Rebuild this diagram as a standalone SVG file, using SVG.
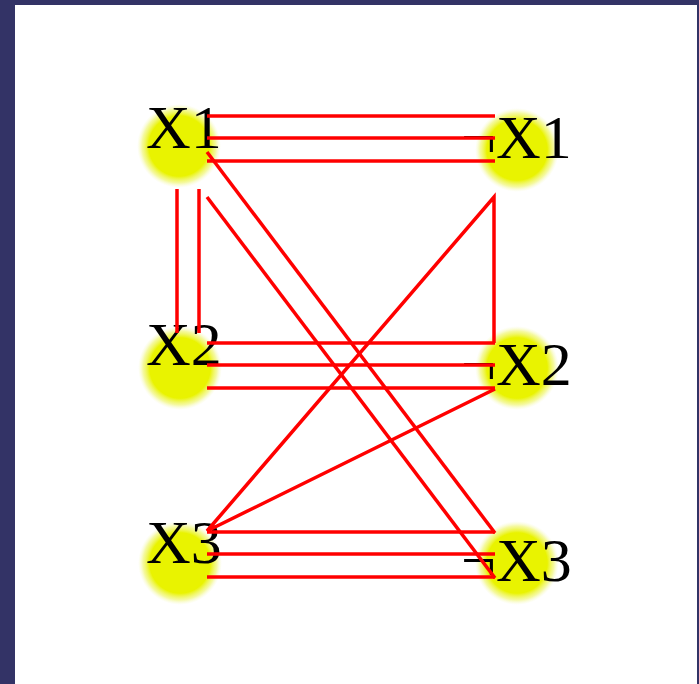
<svg xmlns="http://www.w3.org/2000/svg" width="699" height="684" viewBox="0 0 699 684">
<defs>
<radialGradient id="glow">
<stop offset="0" stop-color="#e9f300"/>
<stop offset="0.72" stop-color="#e9f300"/>
<stop offset="0.88" stop-color="#eef560" stop-opacity="0.6"/>
<stop offset="1" stop-color="#f4f8c0" stop-opacity="0"/>
</radialGradient>
<style>
.dot{fill:url(#glow)}
.lbl{font-family:"Liberation Serif","Times New Roman",serif;font-size:62px;fill:#000}
.c{stroke:#ff0000;stroke-width:3.5;fill:none;stroke-linecap:butt;stroke-linejoin:miter}
</style>
</defs>
<rect x="0" y="0" width="699" height="684" fill="#333366"/>
<rect x="15" y="5" width="682" height="679" fill="#ffffff"/>
<g id="X1">
<circle class="dot" cx="179" cy="146" r="42"/>
<text class="lbl" x="146" y="148">X1</text>
</g>
<g id="nX1">
<circle class="dot" cx="517" cy="150" r="42"/>
<text class="lbl" x="461" y="158">¬X1</text>
</g>
<g id="X2">
<circle class="dot" cx="180" cy="368" r="42"/>
<text class="lbl" x="146" y="365">X2</text>
</g>
<g id="nX2">
<circle class="dot" cx="517" cy="368" r="42"/>
<text class="lbl" x="461" y="385">¬X2</text>
</g>
<g id="X3">
<circle class="dot" cx="180" cy="563" r="42"/>
<text class="lbl" x="146" y="563">X3</text>
</g>
<g id="nX3">
<circle class="dot" cx="517" cy="563" r="42"/>
<text class="lbl" x="461" y="581">¬X3</text>
</g>
<g id="connectors" class="c">
<line x1="207" y1="116" x2="495" y2="116"/>
<line x1="207" y1="138" x2="495" y2="138"/>
<line x1="207" y1="161" x2="495" y2="161"/>
<line x1="177" y1="189" x2="177" y2="333"/>
<line x1="199" y1="189" x2="199" y2="333"/>
<line x1="207" y1="152" x2="495" y2="533"/>
<line x1="207" y1="197" x2="495" y2="578"/>
<polyline points="494,343 494,197 207,531 495,389"/>
<line x1="207" y1="343" x2="495" y2="343"/>
<line x1="207" y1="365" x2="495" y2="365"/>
<line x1="207" y1="388" x2="495" y2="388"/>
<line x1="207" y1="532" x2="495" y2="532"/>
<line x1="207" y1="554" x2="495" y2="554"/>
<line x1="207" y1="577" x2="495" y2="577"/>
</g>
</svg>
